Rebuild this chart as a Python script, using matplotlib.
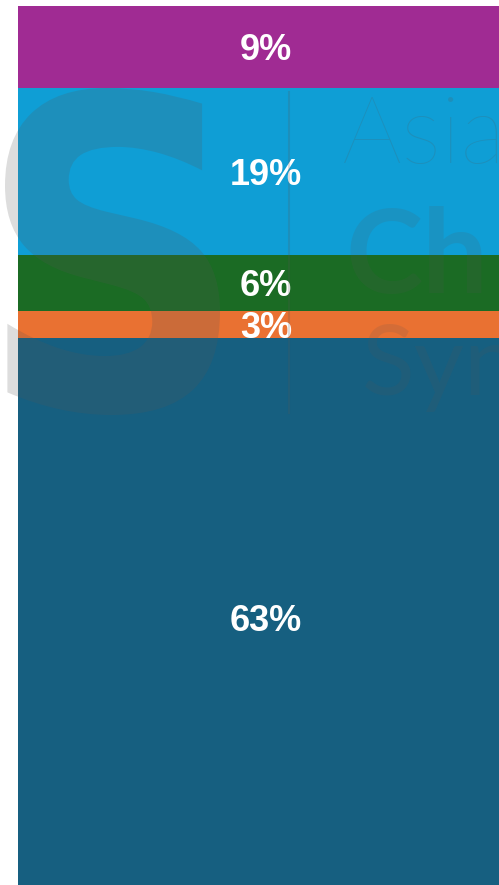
import matplotlib
matplotlib.use('Agg')
import matplotlib.pyplot as plt
from matplotlib.textpath import TextPath
from matplotlib.font_manager import FontProperties
from matplotlib.patches import PathPatch
from matplotlib.transforms import Affine2D

# Data (bottom to top of the stacked bar)
labels = ['63%', '3%', '6%', '19%', '9%']
values = [62.7, 3.1, 6.3, 18.7, 9.2]
colors = ['#165F80', '#E97132', '#1B6B24', '#0F9ED5', '#A02B93']

W, H = 499, 885
fig = plt.figure(figsize=(W / 100, H / 100), dpi=100)
fig.patch.set_facecolor('white')

# axes reaches past the right and bottom edges (bar is cut off there)
ax = fig.add_axes([18 / W, -12 / H, 496 / W, 891 / H])
bottom = 0
for lab, v, c in zip(labels, values, colors):
    ax.bar(0, v, width=1, bottom=bottom, color=c, edgecolor='none')
    ax.text(0, bottom + v / 2, lab, ha='center', va='center_baseline', color='white',
            fontsize=26, fontweight='bold', family=['Liberation Sans', 'DejaVu Sans'])
    bottom += v
ax.set_xlim(-0.5, 0.5)
ax.set_ylim(0, sum(values))
ax.axis('off')

# faint watermark logo
wm = '#565656'
wa = 0.2
tp = TextPath((0, 0), 'S', size=1, prop=FontProperties(family='DejaVu Sans', weight='bold'))
ext = tp.get_extents()
x0, x1, y0, y1 = 5, 220, 88, 415  # pixel box, y measured from top
sx = (x1 - x0) / ext.width
sy = (y1 - y0) / ext.height
tr = Affine2D().translate(-ext.x0, -ext.y0).scale(sx, sy).translate(x0, H - y1).scale(1 / W, 1 / H)
fig.patches.append(PathPatch(tr.transform_path(tp), transform=fig.transFigure,
                             facecolor=wm, edgecolor='none', alpha=wa))
fig.add_artist(plt.Line2D([289 / W, 289 / W], [1 - 92 / H, 1 - 413 / H],
                          transform=fig.transFigure, color=wm, alpha=wa, lw=1.5))
fig.text(342 / W, 1 - 163 / H, 'Asia', fontsize=68, color=wm, alpha=wa,
         family='Lato', fontweight='light', va='baseline')
fig.text(345 / W, 1 - 293 / H, 'Ch', fontsize=84, color=wm, alpha=0.15,
         family='Lato', fontweight='bold', va='baseline')
fig.text(362 / W, 1 - 395 / H, 'Syn', fontsize=70, color=wm, alpha=0.15,
         family='Lato', fontweight='normal', va='baseline')

plt.savefig('out.png', dpi=100)
